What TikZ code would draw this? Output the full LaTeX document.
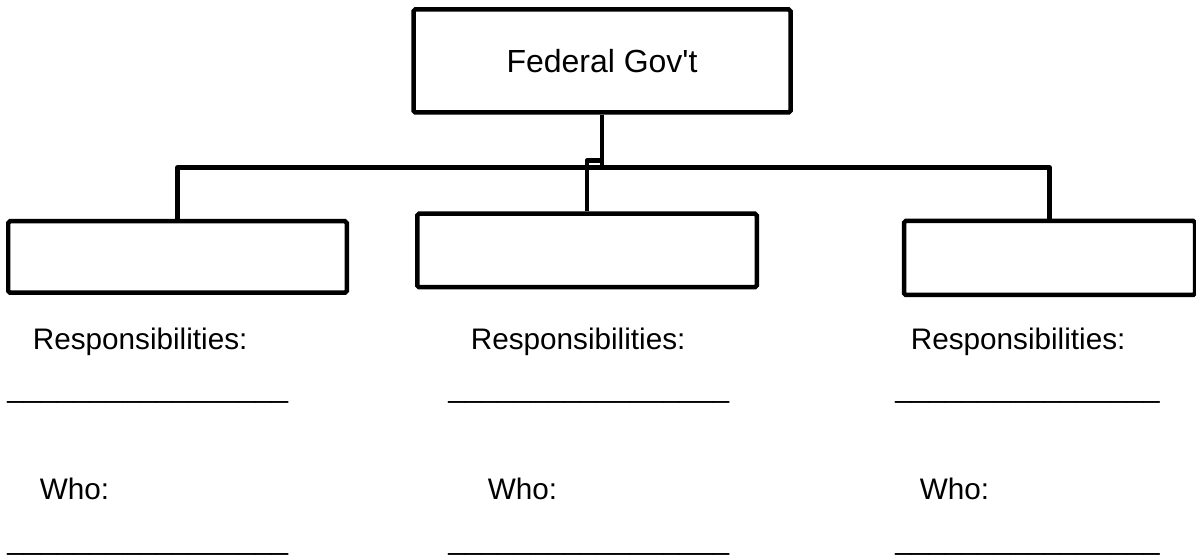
\documentclass[tikz,border=0pt]{standalone}
\usepackage{fontspec}
\setmainfont{Liberation Sans}
\begin{document}
\begin{tikzpicture}[
        box/.style={draw, line width=0.09cm, rounded corners=1pt, inner sep=0pt},
        wire/.style={line width=0.09cm, line join=round},
        txt/.style={anchor=base west, inner sep=0pt, font=\fontsize{16.9}{20}\selectfont},
    ]
    \useasboundingbox (0,0) rectangle (23.92,11.12);

    \node[box, minimum width=7.54cm, minimum height=2.06cm,
        font=\fontsize{18.2}{22}\selectfont] (fed) at (12.04,9.9) {Federal Gov\textquotesingle t};
    \node[box, minimum width=6.77cm, minimum height=1.43cm] (left) at (3.55,5.98) {};
    \node[box, minimum width=6.79cm, minimum height=1.47cm] (mid) at (11.74,6.11) {};
    \node[box, minimum width=5.82cm, minimum height=1.48cm] (right) at (20.99,5.96) {};

    \coordinate (bus) at (0,7.77);
    \coordinate (jog) at (0,7.91);

    \draw[wire] (fed.south) -- (fed.south |- bus);
    \draw[wire] (left.north) -- (left.north |- bus) -- (right.north |- bus) -- (right.north);
    \draw[wire] (mid.north) -- (mid.north |- jog) -- (fed.south |- jog) -- (fed.south |- bus);

    \node[txt] (respL) at (0.65,4.12) {Responsibilities:};
    \node[txt] (respM) at (9.41,4.12) {Responsibilities:};
    \node[txt] (respR) at (18.21,4.12) {Responsibilities:};
    \node[txt] (lineRL) at (0.14,3.17) {\_\_\_\_\_\_\_\_\_\_\_\_\_\_\_\_\_};
    \node[txt] (lineRM) at (8.96,3.17) {\_\_\_\_\_\_\_\_\_\_\_\_\_\_\_\_\_};
    \node[txt] (lineRR) at (17.9,3.17) {\_\_\_\_\_\_\_\_\_\_\_\_\_\_\_\_};

    \node[txt] (whoL) at (0.79,1.12) {Who:};
    \node[txt] (whoM) at (9.75,1.12) {Who:};
    \node[txt] (whoR) at (18.39,1.12) {Who:};
    \node[txt] (lineWL) at (0.14,0.13) {\_\_\_\_\_\_\_\_\_\_\_\_\_\_\_\_\_};
    \node[txt] (lineWM) at (8.96,0.13) {\_\_\_\_\_\_\_\_\_\_\_\_\_\_\_\_\_};
    \node[txt] (lineWR) at (17.9,0.13) {\_\_\_\_\_\_\_\_\_\_\_\_\_\_\_\_};
\end{tikzpicture}
\end{document}
